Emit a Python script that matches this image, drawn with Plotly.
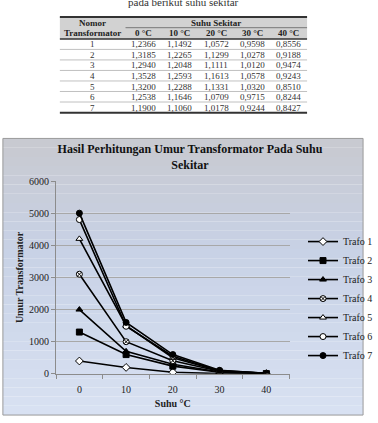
import plotly.graph_objects as go

# ---------------- data ----------------
temps = [0, 10, 20, 30, 40]
temp_labels = ["0", "10", "20", "30", "40"]
trafo_names = ["Trafo 1", "Trafo 2", "Trafo 3", "Trafo 4", "Trafo 5", "Trafo 6", "Trafo 7"]
trafo1 = [400, 200, 50, 8, 2]
trafo2 = [1300, 600, 240, 50, 10]
trafo3 = [2000, 700, 300, 60, 10]
trafo4 = [3100, 1000, 410, 80, 15]
trafo5 = [4200, 1500, 500, 90, 15]
trafo6 = [4800, 1480, 550, 100, 20]
trafo7 = [5000, 1600, 600, 110, 20]
series = [trafo1, trafo2, trafo3, trafo4, trafo5, trafo6, trafo7]

# table data
table_nomor = ["1", "2", "3", "4", "5", "6", "7"]
table_headers = ["0 °C", "10 °C", "20 °C", "30 °C", "40 °C"]
col_0 = ["1,2366", "1,3185", "1,2940", "1,3528", "1,3200", "1,2538", "1,1900"]
col_10 = ["1,1492", "1,2265", "1,2048", "1,2593", "1,2288", "1,1646", "1,1060"]
col_20 = ["1,0572", "1,1299", "1,1111", "1,1613", "1,1331", "1,0709", "1,0178"]
col_30 = ["0,9598", "1,0278", "1,0120", "1,0578", "1,0320", "0,9715", "0,9244"]
col_40 = ["0,8556", "0,9188", "0,9474", "0,9243", "0,8510", "0,8244", "0,8427"]
table_cols = [table_nomor, col_0, col_10, col_20, col_30, col_40]

# ---------------- layout helpers ----------------
W, H = 378, 423
def px(x):
    return x / W
def py(y):
    return 1 - y / H

SERIF = "Liberation Serif, Times New Roman, serif"

symbols = ["diamond", "square", "triangle-up", "circle-x", "triangle-up", "circle", "circle"]
fills = ["white", "black", "black", "white", "white", "white", "black"]
sizes = [6, 6, 6, 6, 6, 6, 6]

fig = go.Figure()
shapes = []
annotations = []

def hline(y, x0, x1, color, width, layer="above"):
    shapes.append(dict(type="line", xref="paper", yref="paper", layer=layer,
                       x0=px(x0), x1=px(x1), y0=py(y), y1=py(y),
                       line=dict(color=color, width=width)))

def text(t, x, y, size=9, color="#333", bold=False):
    annotations.append(dict(text=("<b>%s</b>" % t) if bold else t, x=px(x), y=py(y),
                            xref="paper", yref="paper", showarrow=False,
                            xanchor="center", yanchor="middle",
                            font=dict(family=SERIF, size=size, color=color)))

# ---------------- table ----------------
tbl_top, tbl_left, tbl_right = 12.3, 62, 318
hdr_h, row_h = 22.5, 10.8
col_w = [68, 37.6, 37.6, 37.6, 37.6, 37.6]
col_edges = [tbl_left]
for w in col_w:
    col_edges.append(col_edges[-1] + w)
col_centers = [(col_edges[i] + col_edges[i + 1]) / 2 for i in range(len(col_w))]

shapes.append(dict(type="rect", xref="paper", yref="paper", layer="below",
                   x0=px(tbl_left), x1=px(tbl_right), y0=py(tbl_top + hdr_h), y1=py(tbl_top),
                   fillcolor="#d2d2d2", line=dict(width=0)))
text("Nomor", col_centers[0], tbl_top + 5.8, bold=True, color="#222")
text("Transformator", col_centers[0], tbl_top + 16.8, bold=True, color="#222")
text("Suhu Sekitar", (col_edges[1] + col_edges[-1]) / 2, tbl_top + 5.8, bold=True, color="#222")
for c, h in zip(col_centers[1:], table_headers):
    text(h, c, tbl_top + 16.8, bold=True, color="#222")
for ci, col in enumerate(table_cols):
    for ri, v in enumerate(col):
        text(v, col_centers[ci], tbl_top + hdr_h + row_h * (ri + 0.5) + 0.3)

hline(tbl_top, tbl_left, tbl_right, "#333", 2)
hline(tbl_top + 11, col_edges[1], tbl_right, "#777", 1)
hline(tbl_top + hdr_h, tbl_left, tbl_right, "#333", 1.5)
for k in range(1, 7):
    hline(tbl_top + hdr_h + k * row_h, tbl_left, tbl_right, "#b0b0b0", 0.8)
hline(tbl_top + hdr_h + 7 * row_h + 0.3, tbl_left, tbl_right, "#333", 2)

# partially cut caption line above the table
text("pada berikut suhu sekitar", 190, -3, size=11, color="#333")

# ---------------- chart background ----------------
box_top, box_bot, box_l, box_r = 137, 421, 3, 376
n_band = 30
c_top = (200, 202, 209)
c_mid = (200, 210, 230)
c_bot = (216, 225, 242)
for i in range(n_band):
    t = i / (n_band - 1)
    if t < 0.4:
        u = t / 0.4
        c = [c_top[k] + (c_mid[k] - c_top[k]) * u for k in range(3)]
    else:
        u = (t - 0.4) / 0.6
        c = [c_mid[k] + (c_bot[k] - c_mid[k]) * u for k in range(3)]
    y0 = box_top + (box_bot - box_top) * i / n_band
    y1 = box_top + (box_bot - box_top) * (i + 1) / n_band
    shapes.append(dict(type="rect", xref="paper", yref="paper", layer="below",
                       x0=px(box_l), x1=px(box_r), y0=py(y1), y1=py(y0),
                       fillcolor="rgb(%d,%d,%d)" % tuple(int(v) for v in c), line=dict(width=0)))
shapes.append(dict(type="rect", xref="paper", yref="paper", layer="below",
                   x0=px(box_l), x1=px(box_r), y0=py(box_bot), y1=py(box_top),
                   fillcolor="rgba(0,0,0,0)", line=dict(color="#9a9a9a", width=1)))

# ---------------- chart ----------------
for name, vals, sym, fc, sz in zip(trafo_names, series, symbols, fills, sizes):
    fig.add_trace(go.Scatter(
        x=temps, y=vals, name=name, mode="lines+markers",
        line=dict(color="black", width=1.6),
        marker=dict(symbol=sym, size=sz, color=fc, line=dict(color="black", width=1)),
    ))

fig.update_layout(
    width=W, height=H,
    margin=dict(l=0, r=0, t=0, b=0),
    paper_bgcolor="white",
    plot_bgcolor="white",
    shapes=shapes,
    annotations=annotations,
    title=dict(text="<b>Hasil Perhitungan Umur Transformator Pada Suhu<br>Sekitar</b>",
               x=px(190), xanchor="center", y=py(153), yanchor="top",
               font=dict(family=SERIF, size=12, color="#111")),
    font=dict(family=SERIF, size=10, color="#222"),
    showlegend=True,
    legend=dict(x=px(314), y=py(228), xanchor="left", yanchor="top",
                bgcolor="rgba(0,0,0,0)", itemwidth=30,
                font=dict(family=SERIF, size=10, color="#222")),
    xaxis=dict(
        domain=[px(58), px(300)],
        range=[-5, 45],
        tickvals=temps, ticktext=temp_labels, ticks="",
        ticklabelstandoff=6,
        showgrid=False, zeroline=False,
        showline=True, linecolor="#8c8c8c", linewidth=1,
        minor=dict(tickvals=[-5, 5, 15, 25, 35, 45], ticks="outside", ticklen=4,
                   tickcolor="#8c8c8c", showgrid=False),
        title=dict(text="<b>Suhu °C</b>", standoff=6, font=dict(family=SERIF, size=10)),
        tickfont=dict(family=SERIF, size=10),
    ),
    yaxis=dict(
        domain=[py(378.7), py(180.7)],
        range=[0, 6000], dtick=1000,
        showgrid=True, gridcolor="#a8a8a8", gridwidth=1,
        zeroline=False,
        showline=True, linecolor="#8c8c8c", linewidth=1,
        ticks="outside", ticklen=4, tickcolor="#8c8c8c",
        title=dict(text="<b>Umur Transformator</b>", standoff=3, font=dict(family=SERIF, size=10)),
        tickfont=dict(family=SERIF, size=10),
    ),
)

fig.write_html("out.html")
